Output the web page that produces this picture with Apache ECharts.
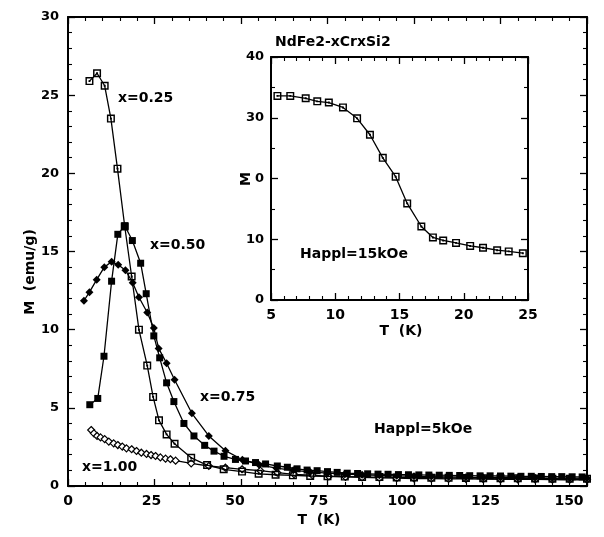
<!DOCTYPE html>
<html>
<head>
<meta charset="utf-8">
<script src="https://cdn.jsdelivr.net/npm/echarts@6/dist/echarts.min.js"></script>
<style>
  html, body { margin: 0; padding: 0; background: #fff; }
  #chart { width: 604px; height: 537px; }
</style>
</head>
<body>
<div id="chart"></div>
<script>
// Magnetization vs temperature, NdFe2-xCrxSi2, Happl = 5 kOe
const T_x025 = [6.2, 8.4, 10.6, 12.4, 14.3, 16.4, 18.4, 20.5, 22.9, 24.6, 26.3, 28.5, 30.8, 35.6, 40.2, 45.0, 50.3, 55.1, 60.0, 65.0, 70.0, 75.0, 80.0, 85.0, 90.0, 95.0, 100.0, 105.0, 110.0, 115.0, 120.0, 125.0, 130.0, 135.0, 140.0, 145.0, 150.0];
const M_x025 = [25.9, 26.4, 25.6, 23.5, 20.3, 16.6, 13.4, 10.0, 7.7, 5.7, 4.2, 3.3, 2.7, 1.8, 1.34, 1.07, 0.92, 0.78, 0.72, 0.68, 0.64, 0.62, 0.6, 0.58, 0.57, 0.55, 0.54, 0.53, 0.52, 0.51, 0.5, 0.49, 0.49, 0.48, 0.47, 0.46, 0.46];

const T_x050 = [6.3, 8.6, 10.4, 12.6, 14.4, 16.4, 18.6, 21.0, 22.6, 24.8, 26.5, 28.5, 30.6, 33.5, 36.4, 39.5, 42.2, 45.1, 48.4, 51.3, 54.2, 57.1, 60.5, 63.4, 66.2, 69.1, 72.0, 75.0, 77.8, 80.7, 83.7, 86.6, 89.6, 92.5, 95.5, 98.4, 101.4, 104.3, 107.3, 110.2, 113.2, 116.1, 119.1, 122.0, 125.0, 128.0, 130.9, 133.9, 136.8, 139.8, 142.7, 145.7, 148.6];
const M_x050 = [5.2, 5.6, 8.3, 13.1, 16.1, 16.65, 15.7, 14.25, 12.3, 9.6, 8.2, 6.6, 5.4, 4.0, 3.2, 2.6, 2.23, 1.9, 1.7, 1.6, 1.5, 1.41, 1.28, 1.2, 1.1, 1.02, 0.98, 0.92, 0.87, 0.82, 0.8, 0.78, 0.76, 0.75, 0.73, 0.72, 0.71, 0.7, 0.69, 0.68, 0.67, 0.66, 0.65, 0.65, 0.64, 0.63, 0.62, 0.62, 0.61, 0.6, 0.6, 0.59, 0.58];

const T_x075 = [4.6, 6.2, 8.3, 10.5, 12.6, 14.5, 16.6, 18.7, 20.5, 22.9, 24.8, 26.2, 28.5, 30.8, 35.8, 40.7, 45.5, 50.4, 55.3, 60.2, 65.1, 70.0, 75.0, 80.0, 85.0, 90.0, 95.0, 100.0, 105.0, 110.0, 115.0, 120.0, 125.0, 130.0, 135.0, 140.0, 145.0, 150.0];
const M_x075 = [11.85, 12.4, 13.2, 14.0, 14.35, 14.15, 13.8, 13.0, 12.07, 11.1, 10.1, 8.8, 7.85, 6.8, 4.65, 3.2, 2.26, 1.68, 1.35, 1.15, 1.0, 0.9, 0.82, 0.76, 0.72, 0.68, 0.65, 0.62, 0.6, 0.58, 0.56, 0.55, 0.54, 0.53, 0.52, 0.51, 0.5, 0.5];

const T_x100 = [6.7, 7.5, 8.4, 9.4, 10.6, 11.8, 13.2, 14.4, 15.7, 16.9, 18.4, 19.8, 21.2, 22.7, 24.0, 25.3, 26.7, 28.2, 29.6, 31.1, 35.6, 40.7, 45.5, 50.3, 55.6, 60.5, 65.3, 70.6, 75.4, 80.2, 85.0, 90.0, 95.0, 100.0, 105.0, 110.0, 115.0, 120.0, 125.0, 130.0, 135.0, 140.0, 145.0, 150.0];
const M_x100 = [3.58, 3.37, 3.2, 3.11, 3.0, 2.84, 2.73, 2.62, 2.52, 2.41, 2.35, 2.24, 2.13, 2.05, 1.98, 1.92, 1.83, 1.75, 1.71, 1.62, 1.45, 1.28, 1.17, 1.07, 0.98, 0.85, 0.75, 0.7, 0.62, 0.58, 0.55, 0.52, 0.5, 0.48, 0.47, 0.46, 0.45, 0.44, 0.43, 0.42, 0.42, 0.41, 0.4, 0.4];

// Inset: x = 0.25 sample, Happl = 15 kOe
const T_inset = [5.5, 6.5, 7.7, 8.6, 9.5, 10.6, 11.7, 12.7, 13.7, 14.7, 15.6, 16.7, 17.6, 18.4, 19.4, 20.5, 21.5, 22.6, 23.5, 24.6];
const M_inset = [33.6, 33.6, 33.2, 32.7, 32.5, 31.7, 29.9, 27.2, 23.4, 20.3, 15.9, 12.1, 10.3, 9.8, 9.4, 8.9, 8.6, 8.2, 8.0, 7.7];

// temperature tick labels of the main axis
const T_TICKS = [0, 25, 50, 75, 100, 125, 150];

const seriesNames = ['x=0.25', 'x=0.50', 'x=0.75', 'x=1.00'];

const zip = (xs, ys) => xs.map((x, i) => [x, ys[i]]);

const FAMILY = '"DejaVu Sans", "Liberation Sans", Arial, sans-serif';
const FONT = 'bold 14px ' + FAMILY;

// open square with a centre dot (outer ring + hole + dot, nonzero fill)
const DOT_SQUARE = 'path://M0,0H10V10H0Z M1.8,1.8V8.2H8.2V1.8Z M3.8,3.8H6.2V6.2H3.8Z';

function frameAxis(grid, min, max, interval, minorSplit, showLabel, position, labelSize, labelMargin) {
  return {
    type: 'value', gridIndex: grid, min: min, max: max, interval: interval,
    position: position,
    axisLine: { show: true, onZero: false, lineStyle: { color: '#000', width: 2 } },
    axisTick: { show: true, inside: true, length: 7, lineStyle: { color: '#000', width: 1.3 } },
    minorTick: { show: true, splitNumber: minorSplit, length: 4, lineStyle: { color: '#000', width: 1.1 } },
    splitLine: { show: false },
    axisLabel: {
      show: showLabel, color: '#000', fontWeight: 'bold', fontSize: labelSize,
      fontFamily: FAMILY, margin: labelMargin
    }
  };
}

// main temperature labels drift slightly left of their ticks towards high T
const tRich = {};
T_TICKS.forEach(v => {
  tRich['s' + v] = {
    fontSize: 14, fontWeight: 'bold', fontFamily: FAMILY, color: '#000',
    padding: [0, Math.round(v * 0.24), 0, 0]
  };
});
const mainX = frameAxis(0, 0, 150, 25, 5, true, 'bottom', 14, 8);
mainX.axisLabel.formatter = v => '{s' + v + '|' + v + '}';
mainX.axisLabel.rich = tRich;

const lineBase = {
  type: 'line', showSymbol: true,
  lineStyle: { color: '#000', width: 1.3 }
};

function note(x, y, text, extra) {
  return {
    type: 'text', x: x, y: y, z: 10,
    style: Object.assign({ text: text, font: FONT, fill: '#000', verticalAlign: 'middle', textVerticalAlign: 'middle' }, extra || {})
  };
}
function vnote(x, y, text, extra) {
  const el = note(x, y, text, Object.assign({ align: 'center', textAlign: 'center' }, extra || {}));
  el.rotation = Math.PI / 2;
  return el;
}

const option = {
  backgroundColor: '#fff',
  animation: false,
  grid: [
    { left: 68, top: 17, width: 519, height: 469, show: false },
    { left: 271, top: 57, width: 257, height: 243, show: true, backgroundColor: '#fff', borderWidth: 0, z: 5 }
  ],
  xAxis: [
    mainX,
    frameAxis(0, 0, 150, 25, 5, false, 'top', 14, 8),
    Object.assign(frameAxis(1, 5, 25, 5, 5, true, 'bottom', 14, 8), { z: 6 }),
    Object.assign(frameAxis(1, 5, 25, 5, 5, false, 'top', 14, 8), { z: 6 })
  ],
  yAxis: [
    frameAxis(0, 0, 30, 5, 5, true, 'left', 13, 9),
    frameAxis(0, 0, 30, 5, 5, false, 'right', 13, 9),
    Object.assign(frameAxis(1, 0, 40, 10, 2, true, 'left', 13, 7), { z: 6 }),
    Object.assign(frameAxis(1, 0, 40, 10, 2, false, 'right', 13, 7), { z: 6 })
  ],
  series: [
    Object.assign({}, lineBase, {
      name: seriesNames[3], xAxisIndex: 0, yAxisIndex: 0, z: 2,
      data: zip(T_x100, M_x100), symbol: 'diamond', symbolSize: 7,
      itemStyle: { color: '#fff', borderColor: '#000', borderWidth: 1.2 }
    }),
    Object.assign({}, lineBase, {
      name: seriesNames[2], xAxisIndex: 0, yAxisIndex: 0, z: 3,
      data: zip(T_x075, M_x075), symbol: 'diamond', symbolSize: 8,
      itemStyle: { color: '#000' }
    }),
    Object.assign({}, lineBase, {
      name: seriesNames[0], xAxisIndex: 0, yAxisIndex: 0, z: 3,
      data: zip(T_x025, M_x025), symbol: DOT_SQUARE, symbolSize: 8,
      itemStyle: { color: '#000' }
    }),
    Object.assign({}, lineBase, {
      name: seriesNames[1], xAxisIndex: 0, yAxisIndex: 0, z: 4,
      data: zip(T_x050, M_x050), symbol: 'rect', symbolSize: 7,
      itemStyle: { color: '#000' }
    }),
    Object.assign({}, lineBase, {
      name: 'inset', xAxisIndex: 2, yAxisIndex: 2, z: 7,
      data: zip(T_inset, M_inset), symbol: DOT_SQUARE, symbolSize: 8,
      itemStyle: { color: '#000' }
    })
  ],
  graphic: [
    note(118, 98, seriesNames[0]),
    note(150, 245, seriesNames[1]),
    note(200, 397, seriesNames[2]),
    note(82, 467, seriesNames[3]),
    note(374, 429, 'Happl=5kOe'),
    note(319, 520, 'T  (K)', { align: 'center', textAlign: 'center' }),
    vnote(30, 272, 'M  (emu/g)'),
    // inset texts
    note(275, 42, 'NdFe2-xCrxSi2'),
    note(300, 254, 'Happl=15kOe'),
    note(401, 331, 'T  (K)', { align: 'center', textAlign: 'center' }),
    vnote(246, 179, 'M', { backgroundColor: '#fff', padding: [2, 1] })
  ]
};

const chart = echarts.init(document.getElementById('chart'), null, { renderer: 'canvas' });
chart.setOption(option);
</script>
</body>
</html>
